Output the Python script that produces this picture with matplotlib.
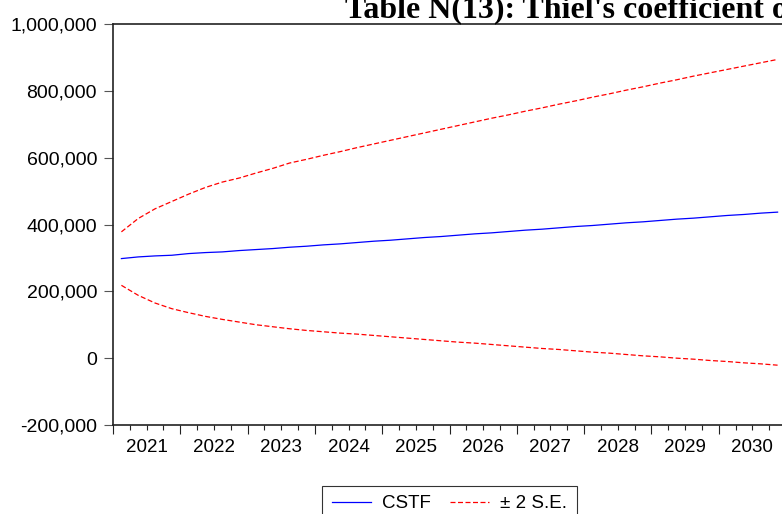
import numpy as np
import pandas as pd
import matplotlib as mpl
mpl.use('Agg')
import matplotlib.pyplot as plt
from matplotlib.ticker import FuncFormatter, MultipleLocator

plt.rcParams['font.family'] = ['Liberation Sans', 'DejaVu Sans']

# quarterly forecast 2021Q1 - 2030Q4 (values in thousands)
quarters = pd.period_range('2021Q1', '2030Q4', freq='Q')

cstf = [298, 303, 306, 308, 313, 316, 318, 322, 325, 328,
        332, 335, 339, 342, 346, 350, 353, 357, 361, 364,
        368, 372, 375, 379, 383, 386, 390, 394, 397, 401,
        405, 408, 412, 416, 419, 423, 427, 430, 434, 437]

upper = [378, 418, 447, 469, 491, 511, 527, 539, 554, 568,
         584, 595, 607, 618, 630, 641, 652, 663, 674, 685,
         696, 707, 718, 728, 739, 749, 760, 770, 781, 791,
         802, 812, 823, 833, 844, 854, 864, 874, 884, 894]

lower = [218, 188, 165, 148, 136, 125, 116, 108, 100, 94,
         88, 83, 79, 75, 72, 68, 64, 60, 56, 52,
         48, 45, 41, 37, 33, 29, 26, 22, 18, 15,
         11, 7, 4, 0, -3, -7, -10, -14, -17, -21]

year_labels = [str(y) for y in range(2021, 2031)]

# position each quarter in the middle of its slot
x = np.array([q.year + (q.quarter - 1) / 4 + 0.125 for q in quarters])
cstf = np.array(cstf) * 1000
upper = np.array(upper) * 1000
lower = np.array(lower) * 1000

fig = plt.figure(figsize=(7.82, 5.14), dpi=100)
W, H = 782, 514
ax = fig.add_axes([113 / W, (H - 425) / H, (786 - 113) / W, (425 - 24) / H])

ax.plot(x, cstf, color='#0000FF', lw=0.9, label='CSTF')
ax.plot(x, upper, color='#FF0000', lw=0.9, ls=(0, (4, 2)), label='± 2 S.E.')
ax.plot(x, lower, color='#FF0000', lw=0.9, ls=(0, (4, 2)))

ax.set_xlim(2021, 2031)
ax.set_ylim(-200000, 1000000)

for s in ax.spines.values():
    s.set_linewidth(1.2)
    s.set_color('#222222')
ax.spines['right'].set_visible(False)

ax.yaxis.set_major_locator(MultipleLocator(200000))
ax.yaxis.set_major_formatter(FuncFormatter(lambda v, p: f'{v:,.0f}'))
ax.tick_params(axis='y', length=6.5, width=0.8, color='#555555', pad=5,
               labelsize=14)

ax.xaxis.set_major_locator(MultipleLocator(1))
ax.xaxis.set_minor_locator(MultipleLocator(0.25))
ax.tick_params(axis='x', which='major', length=6.5, width=0.8, labelbottom=False,
               color='#222222')
ax.tick_params(axis='x', which='minor', length=3.5, width=0.8, color='#222222')

sec = ax.secondary_xaxis('bottom')
sec.set_xticks([int(y) + 0.5 for y in year_labels], year_labels)
sec.tick_params(length=0, pad=10, labelsize=13.5)
sec.spines['bottom'].set_visible(False)

leg = ax.legend(loc='upper center', bbox_to_anchor=(449.5 / W, 1 - 486 / H),
                bbox_transform=fig.transFigure, ncol=2, fontsize=13.5,
                frameon=True, fancybox=False, edgecolor='black',
                handlelength=2.1, handletextpad=0.6, columnspacing=1.0,
                borderpad=0.5, borderaxespad=0)
leg.get_frame().set_linewidth(0.8)

fig.text(345 / W, 1 - 18 / H, "Table N(13): Thiel's coefficient of inequality",
         family='Liberation Serif', weight='bold', fontsize=23,
         ha='left', va='baseline')

fig.savefig('out.png', dpi=100)
